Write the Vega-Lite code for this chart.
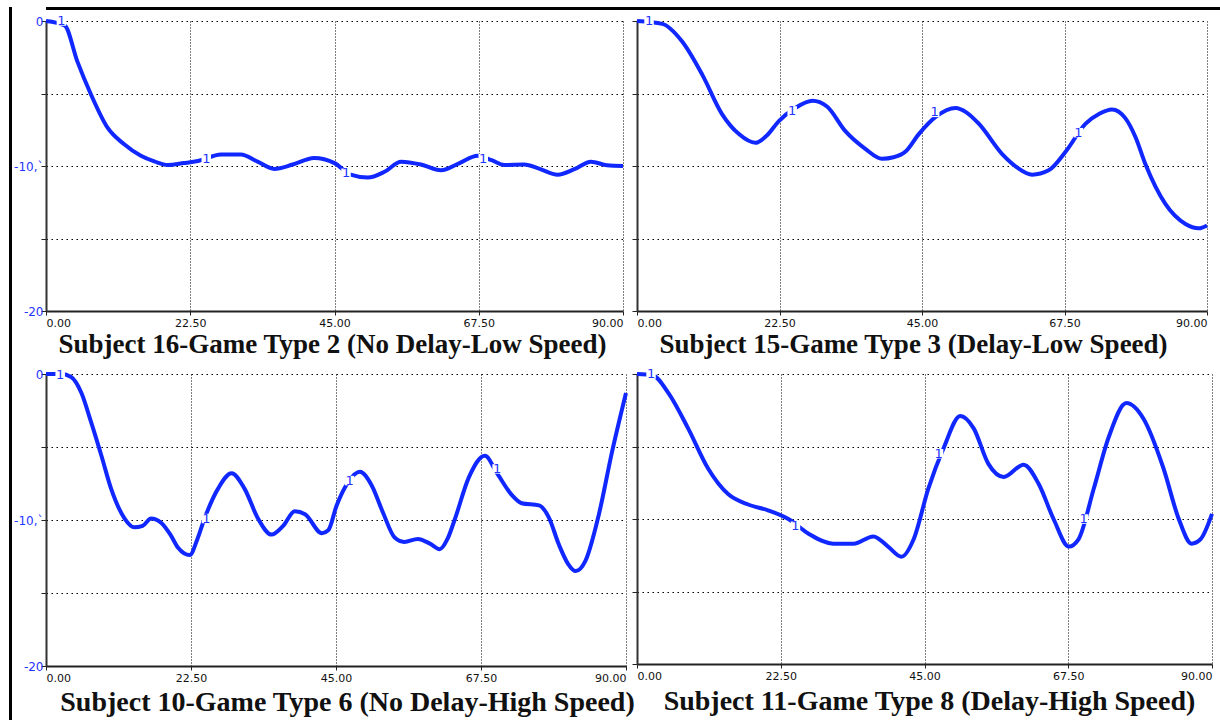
{
"$schema": "https://vega.github.io/schema/vega-lite/v6.json",
"padding": {"left": 9, "top": 7, "right": 0, "bottom": 0},
"autosize": {"type": "pad"},
"background": "white",
"datasets": {
"p1": [
{"x":0,"y":0},{"x":2.9,"y":-0.3},{"x":4.9,"y":-2.8},{"x":7.0,"y":-5.05},{"x":9.6,"y":-7.36},{"x":12.2,"y":-8.5},{"x":14.8,"y":-9.3},{"x":17,"y":-9.7},{"x":19,"y":-9.93},{"x":21.5,"y":-9.8},{"x":23.7,"y":-9.66},{"x":27.3,"y":-9.2},{"x":30.4,"y":-9.2},{"x":33,"y":-9.7},{"x":35.6,"y":-10.2},{"x":38.5,"y":-9.9},{"x":41.8,"y":-9.45},{"x":45,"y":-9.8},{"x":47.5,"y":-10.6},{"x":50.2,"y":-10.8},{"x":52.8,"y":-10.4},{"x":55.4,"y":-9.7},{"x":58.5,"y":-9.9},{"x":61.6,"y":-10.3},{"x":64.5,"y":-9.8},{"x":67.3,"y":-9.3},{"x":69.5,"y":-9.6},{"x":71.5,"y":-9.93},{"x":74.6,"y":-9.9},{"x":77,"y":-10.2},{"x":79.8,"y":-10.6},{"x":82.5,"y":-10.2},{"x":85,"y":-9.7},{"x":87.5,"y":-9.95},{"x":90,"y":-10}
],
"p2": [
{"x":0,"y":0},{"x":4,"y":-0.2},{"x":7.1,"y":-1.4},{"x":10.3,"y":-3.7},{"x":13.4,"y":-6.4},{"x":16.1,"y":-7.8},{"x":18.7,"y":-8.4},{"x":20.5,"y":-7.9},{"x":22.4,"y":-6.9},{"x":25,"y":-6.0},{"x":27.7,"y":-5.5},{"x":30,"y":-5.9},{"x":32.9,"y":-7.6},{"x":36,"y":-8.8},{"x":38.7,"y":-9.5},{"x":40.5,"y":-9.4},{"x":42.4,"y":-9.0},{"x":44.5,"y":-7.8},{"x":47.2,"y":-6.6},{"x":50.3,"y":-6.0},{"x":52,"y":-6.3},{"x":54,"y":-7.1},{"x":57.7,"y":-9.2},{"x":60,"y":-10.1},{"x":62.4,"y":-10.6},{"x":65,"y":-10.3},{"x":67.7,"y":-9.0},{"x":70.8,"y":-7.1},{"x":73,"y":-6.4},{"x":75,"y":-6.1},{"x":77.1,"y":-6.7},{"x":78.7,"y":-8.0},{"x":80.3,"y":-9.9},{"x":83.4,"y":-12.6},{"x":86.6,"y":-14.0},{"x":88.7,"y":-14.3},{"x":90,"y":-14.1}
],
"p3": [
{"x":0,"y":0},{"x":2.4,"y":0},{"x":3.9,"y":-0.2},{"x":5.5,"y":-1.3},{"x":7.0,"y":-3.3},{"x":8.6,"y":-5.6},{"x":10.1,"y":-7.85},{"x":12.2,"y":-9.9},{"x":13.7,"y":-10.5},{"x":15,"y":-10.4},{"x":16.3,"y":-9.9},{"x":17.9,"y":-10.2},{"x":19.3,"y":-11.0},{"x":20.5,"y":-11.9},{"x":22.3,"y":-12.4},{"x":23.5,"y":-11.3},{"x":24.6,"y":-9.9},{"x":26.7,"y":-7.85},{"x":28.8,"y":-6.8},{"x":30.8,"y":-7.85},{"x":32.9,"y":-9.9},{"x":35,"y":-11.0},{"x":36.8,"y":-10.4},{"x":38.6,"y":-9.4},{"x":40.2,"y":-9.6},{"x":42.8,"y":-10.9},{"x":43.8,"y":-10.7},{"x":45.1,"y":-9.0},{"x":46.9,"y":-7.4},{"x":48.7,"y":-6.7},{"x":50.5,"y":-7.6},{"x":52.3,"y":-9.5},{"x":54.1,"y":-11.2},{"x":55.6,"y":-11.5},{"x":57.7,"y":-11.3},{"x":59.5,"y":-11.6},{"x":61.1,"y":-12.0},{"x":62.3,"y":-11.3},{"x":63.4,"y":-10.0},{"x":65.6,"y":-7.1},{"x":68.1,"y":-5.6},{"x":70,"y":-6.8},{"x":72.3,"y":-8.3},{"x":73.8,"y":-8.85},{"x":76.5,"y":-9.0},{"x":78,"y":-9.8},{"x":79.6,"y":-11.7},{"x":81,"y":-13.0},{"x":82.2,"y":-13.5},{"x":83.7,"y":-12.8},{"x":85.8,"y":-9.6},{"x":87.8,"y":-5.4},{"x":90,"y":-1.3}
],
"p4": [
{"x":0,"y":0},{"x":2.5,"y":-0.1},{"x":4.9,"y":-1.3},{"x":8,"y":-3.75},{"x":11.1,"y":-6.5},{"x":14.3,"y":-8.3},{"x":17.4,"y":-9.0},{"x":20.5,"y":-9.4},{"x":23.7,"y":-10},{"x":26.8,"y":-11},{"x":30.7,"y":-11.7},{"x":33.9,"y":-11.7},{"x":37,"y":-11.2},{"x":39.3,"y":-11.9},{"x":41.4,"y":-12.6},{"x":43.3,"y":-11.4},{"x":45.6,"y":-7.9},{"x":48,"y":-5.1},{"x":50.6,"y":-2.9},{"x":52.7,"y":-3.75},{"x":55,"y":-6.2},{"x":57.4,"y":-7.1},{"x":60.5,"y":-6.25},{"x":62.9,"y":-7.6},{"x":65.2,"y":-10},{"x":67.6,"y":-11.9},{"x":69.1,"y":-11.4},{"x":71.5,"y":-7.9},{"x":73.8,"y":-4.4},{"x":76.6,"y":-2.0},{"x":79.3,"y":-3.1},{"x":82.4,"y":-6.5},{"x":84.8,"y":-10},{"x":86.8,"y":-11.7},{"x":88.2,"y":-11.4},{"x":90,"y":-9.65}
],
"l1": [{"x":2.4,"y":0},{"x":25,"y":-9.5},{"x":46.8,"y":-10.5},{"x":68.2,"y":-9.5}],
"l2": [{"x":1.9,"y":0},{"x":24.5,"y":-6.2},{"x":47,"y":-6.3},{"x":69.7,"y":-7.7}],
"l3": [{"x":2.2,"y":-0.1},{"x":24.9,"y":-9.9},{"x":47.1,"y":-7.3},{"x":70,"y":-6.5}],
"l4": [{"x":2.2,"y":0},{"x":24.8,"y":-10.5},{"x":47.2,"y":-5.5},{"x":69.9,"y":-10}]
},
"config": {
  "view": {"stroke": null},
  "axisX": {"domainColor": "#222", "domainWidth": 2, "tickColor": "#222", "tickSize": 4, "labelFont": "DejaVu Sans", "labelFontSize": 11, "labelColor": "#111", "labelFlush": true, "labelPadding": 2, "grid": true, "gridColor": "#000", "gridDash": [1, 2], "gridWidth": 1, "gridOpacity": 1, "titleFont": "Liberation Serif", "titleFontSize": 27, "titleFontWeight": "bold", "titleColor": "#111", "titlePadding": 3, "titleAlign": "center"},
  "axisY": {"domainColor": "#333", "domainWidth": 2, "tickColor": "#222", "tickSize": 5, "labelFont": "DejaVu Sans", "labelFontSize": 12, "labelColor": "#1f35ff", "labelPadding": -2, "grid": true, "gridColor": "#000", "gridDash": [1.5, 3.5], "gridWidth": 1.2, "title": null}
},
"spacing": 1,
"hconcat": [
{"width": 3, "height": 713, "view": {"fill": "#000", "stroke": null}, "data": {"values": []}, "mark": {"type": "rule"}, "encoding": {}},
{"spacing": 3,
 "vconcat": [
 {"width": 1212, "height": 3, "view": {"fill": "#000", "stroke": null}, "data": {"values": []}, "mark": {"type": "rule"}, "encoding": {}},
 {"columns": 2,
 "spacing": {"row": 63, "column": 11},
 "bounds": "flush",
 "align": "none",
 "concat": [
{"width": 577, "height": 290,
 "layer": [
  {"data": {"name": "p1"}, "mark": {"type": "line", "color": "#1028ff", "strokeWidth": 4, "interpolate": "monotone"},
   "encoding": {"x": {"field": "x", "type": "quantitative", "scale": {"domain": [0, 90], "nice": false, "zero": false}, "axis": {"values": [0, 22.5, 45, 67.5, 90], "format": ".2f", "title": "Subject 16-Game Type 2 (No Delay-Low Speed)", "titleX": 286}},
                "y": {"field": "y", "type": "quantitative", "scale": {"domain": [-20, 0], "nice": false}, "axis": {"values": [-20, -15, -10, -5, 0], "labelExpr": "datum.value == 0 ? '0' : datum.value == -10 ? '-10,`' : datum.value == -20 ? '-20' : ''"}}}},
  {"data": {"name": "l1"}, "mark": {"type": "square", "size": 90, "color": "white", "opacity": 1}, "encoding": {"x": {"field": "x", "type": "quantitative"}, "y": {"field": "y", "type": "quantitative"}}},
  {"data": {"name": "l1"}, "mark": {"type": "text", "text": "1", "color": "#1f35ff", "fontSize": 13, "font": "DejaVu Sans"}, "encoding": {"x": {"field": "x", "type": "quantitative"}, "y": {"field": "y", "type": "quantitative"}}}
 ]},
{"width": 570, "height": 290,
 "layer": [
  {"data": {"name": "p2"}, "mark": {"type": "line", "color": "#1028ff", "strokeWidth": 4, "interpolate": "monotone"},
   "encoding": {"x": {"field": "x", "type": "quantitative", "scale": {"domain": [0, 90], "nice": false, "zero": false}, "axis": {"values": [0, 22.5, 45, 67.5, 90], "format": ".2f", "title": "Subject 15-Game Type 3 (Delay-Low Speed)", "titleX": 276}},
                "y": {"field": "y", "type": "quantitative", "scale": {"domain": [-20, 0], "nice": false}, "axis": {"values": [-20, -15, -10, -5, 0], "labels": false}}}},
  {"data": {"name": "l2"}, "mark": {"type": "square", "size": 90, "color": "white", "opacity": 1}, "encoding": {"x": {"field": "x", "type": "quantitative"}, "y": {"field": "y", "type": "quantitative"}}},
  {"data": {"name": "l2"}, "mark": {"type": "text", "text": "1", "color": "#1f35ff", "fontSize": 13, "font": "DejaVu Sans"}, "encoding": {"x": {"field": "x", "type": "quantitative"}, "y": {"field": "y", "type": "quantitative"}}}
 ]},
{"width": 580, "height": 292,
 "layer": [
  {"data": {"name": "p3"}, "mark": {"type": "line", "color": "#1028ff", "strokeWidth": 4, "interpolate": "monotone"},
   "encoding": {"x": {"field": "x", "type": "quantitative", "scale": {"domain": [0, 90], "nice": false, "zero": false}, "axis": {"values": [0, 22.5, 45, 67.5, 90], "format": ".2f", "title": "Subject 10-Game Type 6 (No Delay-High Speed)", "titleFontSize": 28, "titlePadding": 5, "titleX": 301}},
                "y": {"field": "y", "type": "quantitative", "scale": {"domain": [-20, 0], "nice": false}, "axis": {"values": [-20, -15, -10, -5, 0], "labelExpr": "datum.value == 0 ? '0' : datum.value == -10 ? '-10,`' : datum.value == -20 ? '-20' : ''"}}}},
  {"data": {"name": "l3"}, "mark": {"type": "square", "size": 90, "color": "white", "opacity": 1}, "encoding": {"x": {"field": "x", "type": "quantitative"}, "y": {"field": "y", "type": "quantitative"}}},
  {"data": {"name": "l3"}, "mark": {"type": "text", "text": "1", "color": "#1f35ff", "fontSize": 13, "font": "DejaVu Sans"}, "encoding": {"x": {"field": "x", "type": "quantitative"}, "y": {"field": "y", "type": "quantitative"}}}
 ]},
{"width": 575, "height": 290,
 "layer": [
  {"data": {"name": "p4"}, "mark": {"type": "line", "color": "#1028ff", "strokeWidth": 4, "interpolate": "monotone"},
   "encoding": {"x": {"field": "x", "type": "quantitative", "scale": {"domain": [0, 90], "nice": false, "zero": false}, "axis": {"values": [0, 22.5, 45, 67.5, 90], "format": ".2f", "title": "Subject 11-Game Type 8 (Delay-High Speed)", "titleFontSize": 28, "titlePadding": 6, "titleX": 292}},
                "y": {"field": "y", "type": "quantitative", "scale": {"domain": [-20, 0], "nice": false}, "axis": {"values": [-20, -15, -10, -5, 0], "labels": false}}}},
  {"data": {"name": "l4"}, "mark": {"type": "square", "size": 90, "color": "white", "opacity": 1}, "encoding": {"x": {"field": "x", "type": "quantitative"}, "y": {"field": "y", "type": "quantitative"}}},
  {"data": {"name": "l4"}, "mark": {"type": "text", "text": "1", "color": "#1f35ff", "fontSize": 13, "font": "DejaVu Sans"}, "encoding": {"x": {"field": "x", "type": "quantitative"}, "y": {"field": "y", "type": "quantitative"}}}
 ]}
 ]}
 ]}
]
}
